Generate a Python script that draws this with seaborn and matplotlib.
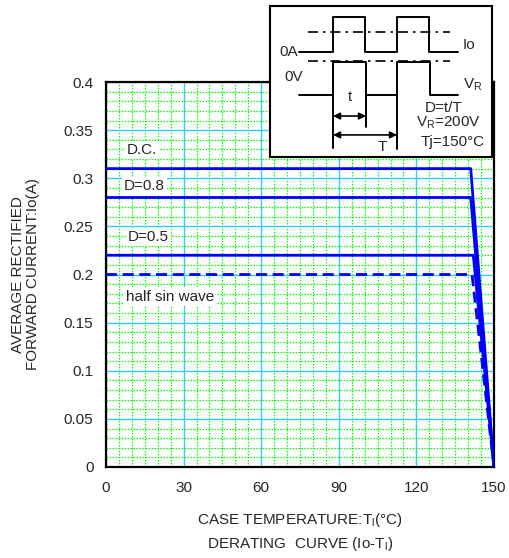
import numpy as np
import pandas as pd
import matplotlib
matplotlib.use("Agg")
import matplotlib.pyplot as plt
from matplotlib.ticker import MultipleLocator
import seaborn as sns

# derating curves (case temperature vs average rectified current)
curve_names = ["D.C.", "D=0.8", "D=0.5", "half sin wave"]
temp_dc = [0, 141, 150]
io_dc = [0.31, 0.31, 0.0]
temp_d08 = [0, 141, 150]
io_d08 = [0.28, 0.28, 0.0]
temp_d05 = [0, 142, 150]
io_d05 = [0.22, 0.22, 0.0]
temp_hsw = [0, 141.5, 150]
io_hsw = [0.20, 0.20, 0.0]

label_x = [8.1, 7.0, 8.5, 7.7]
label_y = [0.329, 0.292, 0.239, 0.177]

x_ticks = [0, 30, 60, 90, 120, 150]
y_ticks = [0, 0.05, 0.1, 0.15, 0.2, 0.25, 0.3, 0.35, 0.4]
y_tick_labels = ["0", "0.05", "0.1", "0.15", "0.2", "0.25", "0.3", "0.35", "0.4"]

# inset waveform (schematic units: t = 1, T = 2)
io_wave_x = [-1.05, 0, 0, 1, 1, 2, 2, 3, 3, 3.9]
io_wave_y = [3.28, 3.28, 4.38, 4.38, 3.28, 3.28, 4.38, 4.38, 3.28, 3.28]
vr_wave_x = [-1.05, 0, 0, 1.03, 1.03, 2.0, 2.0, 3.03, 3.03, 3.9]
vr_wave_y = [1.94, 1.94, 2.97, 2.97, 1.94, 1.94, 2.97, 2.97, 1.94, 1.94]

df = pd.concat([
    pd.DataFrame({"temp": temp_dc, "io": io_dc, "curve": "D.C."}),
    pd.DataFrame({"temp": temp_d08, "io": io_d08, "curve": "D=0.8"}),
    pd.DataFrame({"temp": temp_d05, "io": io_d05, "curve": "D=0.5"}),
    pd.DataFrame({"temp": temp_hsw, "io": io_hsw, "curve": "half sin wave"}),
], ignore_index=True)

sns.set_style("white")
plt.rcParams["font.family"] = ["Liberation Sans", "DejaVu Sans"]
plt.rcParams["mathtext.fontset"] = "custom"
plt.rcParams["mathtext.rm"] = "Liberation Sans"

fig = plt.figure(figsize=(5.10, 5.58), dpi=100)
ax = fig.add_axes([106 / 510, 1 - 467 / 558, 388 / 510, 385 / 558])

blue = "#0000FF"
sns.lineplot(data=df, x="temp", y="io", hue="curve", style="curve",
             palette={n: blue for n in curve_names},
             dashes={"D.C.": "", "D=0.8": "", "D=0.5": "", "half sin wave": (4, 2)},
             sort=False, estimator=None, linewidth=2.0, legend=False, ax=ax, zorder=3)

for name, lx, ly in zip(curve_names, label_x, label_y):
    ax.text(lx, ly, name, fontsize=11, ha="left", va="center", zorder=4,
            bbox=dict(facecolor="white", edgecolor="none", pad=1.5))

ax.set_xlim(0, 150)
ax.set_ylim(0, 0.4)
ax.set_xticks(x_ticks)
ax.set_yticks(y_ticks)
ax.set_yticklabels(y_tick_labels)
ax.xaxis.set_minor_locator(MultipleLocator(5))
ax.yaxis.set_minor_locator(MultipleLocator(0.01))
ax.set_axisbelow(True)
ax.grid(which="major", color="#33CCFF", linewidth=1.0, linestyle="-")
ax.grid(which="minor", color="#00FF00", linewidth=0.9, linestyle=(0, (1.2, 1.2)))
ax.tick_params(which="both", length=0, labelsize=11)
ax.tick_params(axis="x", pad=10)
ax.tick_params(axis="y", pad=9)
for s in ax.spines.values():
    s.set_color("black")
    s.set_linewidth(1.6)

ax.set_xlabel("CASE TEMPERATURE:T$_\\mathregular{l}$(°C)\nDERATING  CURVE (Io-T$_\\mathregular{l}$)",
              fontsize=11, linespacing=1.5)
ax.xaxis.set_label_coords(0.5, -0.113)
ax.xaxis.label.set_va("top")
ax.set_ylabel("AVERAGE RECTIFIED\nFORWARD CURRENT:Io(A)", fontsize=11, linespacing=1.1)
ax.yaxis.set_label_coords(-0.17, 0.5)

# inset waveform box
ins = fig.add_axes([270 / 510, 1 - 157 / 558, 222 / 510, 151 / 558], zorder=5)
ins.set_facecolor("white")
ins.set_xlim(-1.97, 4.97)
ins.set_ylim(0, 4.72)
ins.set_xticks([])
ins.set_yticks([])
for s in ins.spines.values():
    s.set_color("black")
    s.set_linewidth(1.5)

sns.lineplot(x=io_wave_x, y=io_wave_y, sort=False, estimator=None, color="black", lw=1.4, ax=ins)
sns.lineplot(x=vr_wave_x, y=vr_wave_y, sort=False, estimator=None, color="black", lw=1.4, ax=ins)
ins.plot([-0.78, 3.65], [3.9, 3.9], color="black", lw=1.2, linestyle=(0, (6, 3, 1.5, 3)))
ins.plot([-0.78, 3.65], [3.0, 3.0], color="black", lw=1.2, linestyle=(0, (6, 3, 1.5, 3)))
ins.plot([0, 0], [2.97, 0.28], color="black", lw=1.4)
ins.plot([1.03, 1.03], [1.94, 0.94], color="black", lw=1.4)
ins.plot([2.0, 2.0], [1.94, 0.25], color="black", lw=1.4)
ins.annotate("", xy=(0, 1.28), xytext=(1.03, 1.28),
             arrowprops=dict(arrowstyle="<|-|>", color="black", lw=1.2, shrinkA=0, shrinkB=0,
                             mutation_scale=10))
ins.annotate("", xy=(0, 0.69), xytext=(2.0, 0.69),
             arrowprops=dict(arrowstyle="<|-|>", color="black", lw=1.2, shrinkA=0, shrinkB=0,
                             mutation_scale=10))
ins.text(0.53, 1.88, "t", fontsize=11, ha="center", va="center")
ins.text(1.53, 0.31, "T", fontsize=11, ha="center", va="center")
ins.text(-1.09, 3.28, "0A", fontsize=11, ha="right", va="center")
ins.text(4.06, 3.5, "Io", fontsize=11, ha="left", va="center")
ins.text(-0.94, 2.5, "0V", fontsize=11, ha="right", va="center")
ins.text(4.06, 2.25, "V$_\\mathregular{R}$", fontsize=11, ha="left", va="center")
ins.text(3.47, 1.53, "D=t/T", fontsize=11, ha="center", va="center")
ins.text(3.6, 1.06, "V$_\\mathregular{R}$=200V", fontsize=11, ha="center", va="center")
ins.text(3.75, 0.47, "Tj=150°C", fontsize=11, ha="center", va="center")

fig.savefig("out.png", dpi=100, facecolor="white")
